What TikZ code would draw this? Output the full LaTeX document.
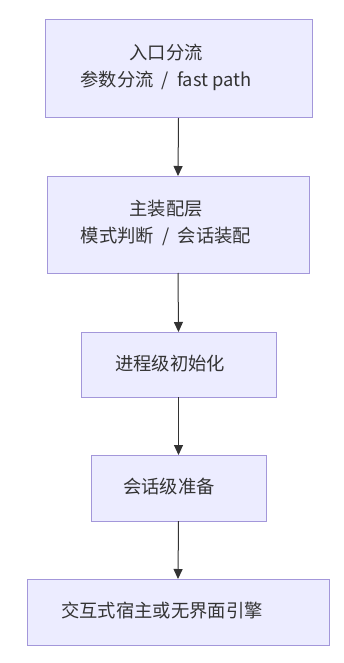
\documentclass[tikz,border=0pt]{standalone}
\usepackage{fontspec}
\setmainfont{Noto Sans CJK SC}
\usetikzlibrary{arrows.meta}
\definecolor{boxfill}{HTML}{ECECFF}
\definecolor{boxline}{HTML}{A397DA}
\definecolor{arrowc}{HTML}{333333}
\newcommand{\slashsep}{\hspace{0.45em}/\hspace{0.45em}}
\begin{document}
\begin{tikzpicture}[x=1pt,y=-1pt,
  box/.style={draw=boxline, fill=boxfill, line width=1pt, inner sep=0pt, outer sep=0pt},
  txt/.style={align=center, inner sep=0pt, text=black!80, font=\fontsize{18.3}{27}\selectfont},
  flow/.style={draw=arrowc, line width=1pt, -{Triangle[length=10pt,width=9pt]}}]
\fill[white] (0,0) rectangle (344,663);
\node[box, minimum width=267pt, minimum height=98pt] (b1) at (178.5,69) {};
\node[box, minimum width=262pt, minimum height=97pt] (b2) at (178,224.5) {};
\node[box, minimum width=195pt, minimum height=65pt] (b3) at (178.5,364.5) {};
\node[box, minimum width=175pt, minimum height=66pt] (b4) at (178.5,488) {};
\node[box, minimum width=302pt, minimum height=66pt] (b5) at (178,612) {};
\node[txt] (t1) at (166,67) {入口分流\\参数分流\slashsep fast path};
\node[txt] (t2) at (166,222.5) {主装配层\\模式判断\slashsep 会话装配};
\node[txt] (t3) at (170,363.5) {进程级初始化};
\node[txt] (t4) at (169,487) {会话级准备};
\node[txt] (t5) at (162,610.5) {交互式宿主或无界面引擎};
\draw[flow] (b1.south) -- (b2.north);
\draw[flow] (b2.south) -- (b3.north);
\draw[flow] (b3.south) -- (b4.north);
\draw[flow] (b4.south) -- (b5.north);
\end{tikzpicture}
\end{document}
